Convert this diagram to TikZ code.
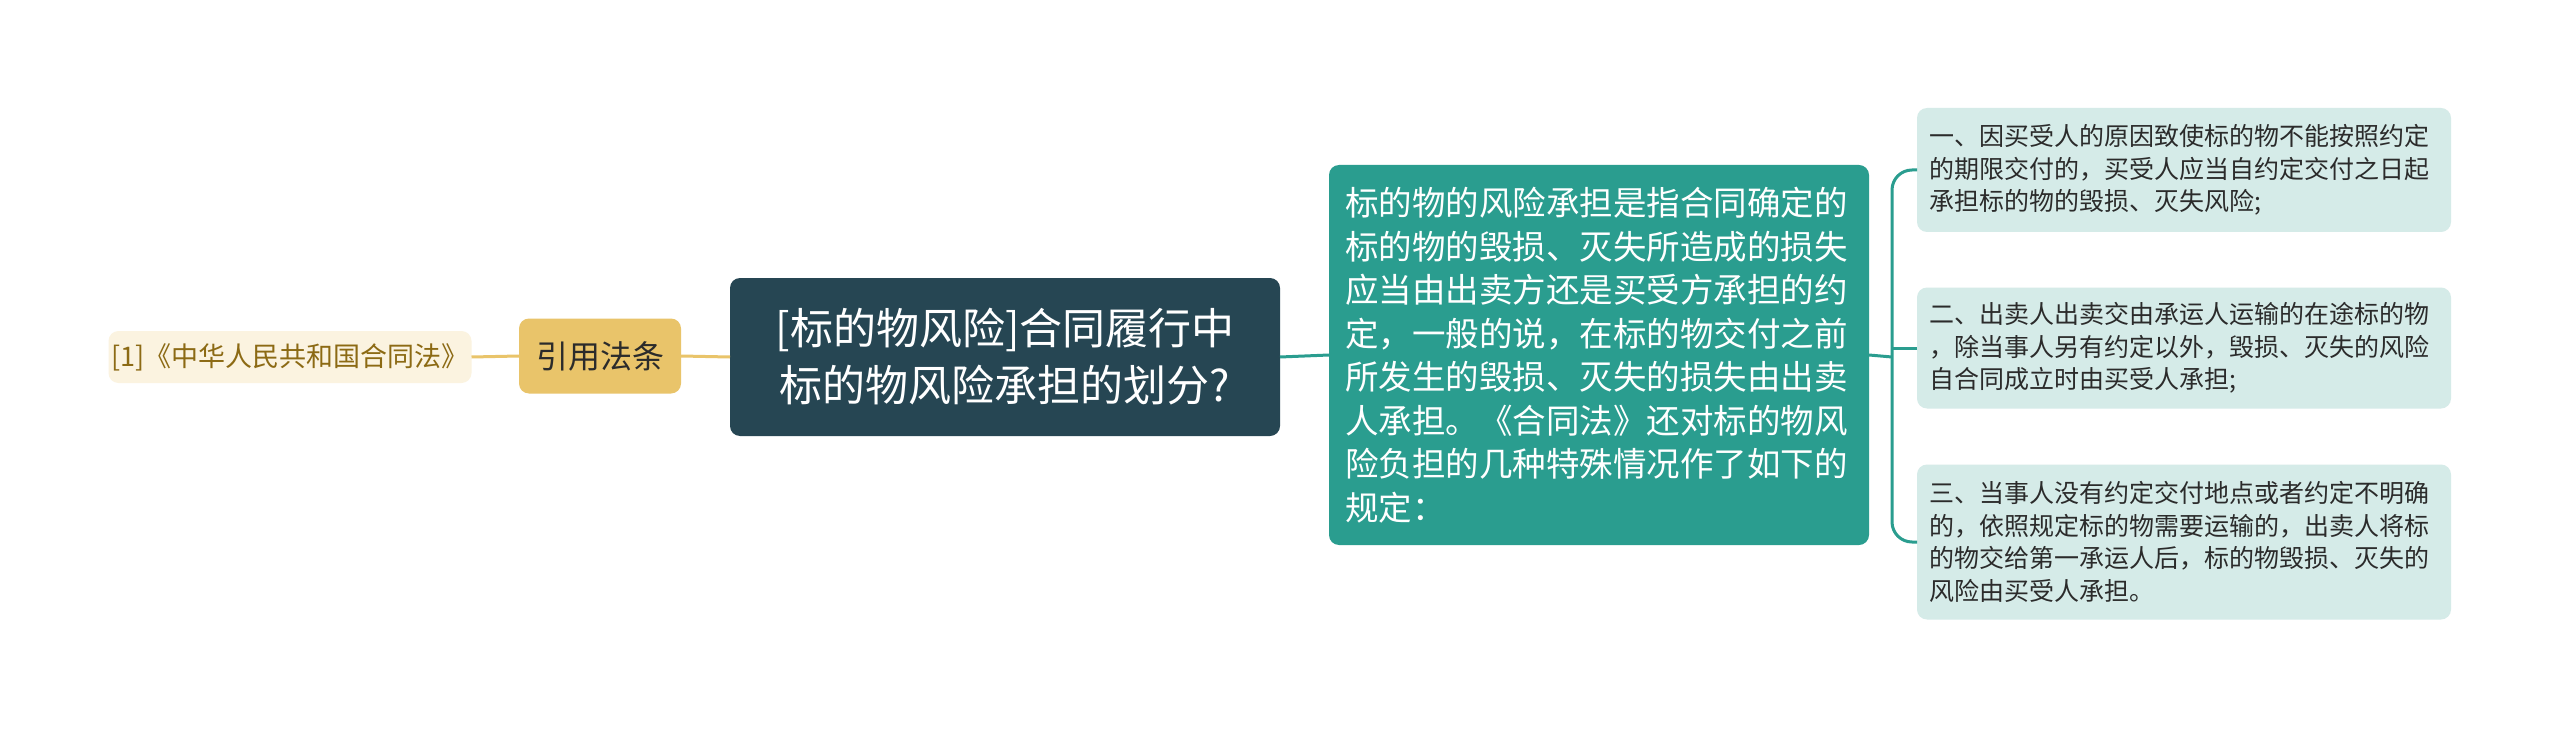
\documentclass[tikz,border=0pt]{standalone}
\usepackage{fontspec}
\setmainfont{Noto Sans CJK SC}
\definecolor{cgold}{HTML}{E9C46A}
\definecolor{ccream}{HTML}{FBF3E0}
\definecolor{cbrown}{HTML}{8C6A14}
\definecolor{cdark}{HTML}{264653}
\definecolor{cteal}{HTML}{2A9D8F}
\definecolor{cleaf}{HTML}{D5EBE8}
\definecolor{ctext}{HTML}{2B2B2B}
\tikzset{
  box/.style={rounded corners=10pt, inner sep=0pt, outer sep=0pt},
  goldline/.style={draw=cgold, line width=3pt},
  tealline/.style={draw=cteal, line width=3pt},
}
\begin{document}
\begin{tikzpicture}[x=1pt,y=-1pt]
\useasboundingbox (0,0) rectangle (2560,730);
\fill[white] (0,0) rectangle (2560,730);
\node[box, fill=ccream, text=cbrown, minimum width=363pt, minimum height=52pt,
  font=\fontsize{27}{33}\selectfont] (ref) at (290,357) {[1]《中华人民共和国合同法》};
\node[box, fill=cgold, text=ctext, minimum width=162pt, minimum height=75pt,
  font=\fontsize{32}{38}\selectfont] (cite) at (600,356) {引用法条};
\node[box, fill=cdark, text=white, minimum width=550pt, minimum height=158pt,
  align=center, font=\fontsize{43}{57}\selectfont] (main) at (1005,357)
  {[标的物风险]合同履行中\\标的物风险承担的划分?};
\node[box, fill=cteal, text=white, minimum width=540pt, minimum height=380pt,
  text width=508pt, align=left, font=\fontsize{33.5}{43.5}\selectfont] (desc) at (1599,355)
  {标的物的风险承担是指合同确定的\\标的物的毁损、灭失所造成的损失\\应当由出卖方还是买受方承担的约\\定，一般的说，在标的物交付之前\\所发生的毁损、灭失的损失由出卖\\人承担。《合同法》还对标的物风\\险负担的几种特殊情况作了如下的\\规定：};
\node[box, fill=cleaf, text=ctext, minimum width=534pt, minimum height=124pt,
  text width=510pt, align=left, font=\fontsize{25}{32.7}\selectfont] (l1) at (2184,170)
  {一、因买受人的原因致使标的物不能按照约定\\的期限交付的，买受人应当自约定交付之日起\\承担标的物的毁损、灭失风险;};
\node[box, fill=cleaf, text=ctext, minimum width=534pt, minimum height=121pt,
  text width=510pt, align=left, font=\fontsize{25}{32.7}\selectfont] (l2) at (2184,348)
  {二、出卖人出卖交由承运人运输的在途标的物\\，除当事人另有约定以外，毁损、灭失的风险\\自合同成立时由买受人承担;};
\node[box, fill=cleaf, text=ctext, minimum width=534pt, minimum height=155pt,
  text width=510pt, align=left, font=\fontsize{25}{32.7}\selectfont] (l3) at (2184,542)
  {三、当事人没有约定交付地点或者约定不明确\\的，依照规定标的物需要运输的，出卖人将标\\的物交给第一承运人后，标的物毁损、灭失的\\风险由买受人承担。};
\coordinate (bx) at (1892,357);
\draw[goldline] (ref.east) -- (cite.west);
\draw[goldline] (cite.east) -- (main.west);
\draw[tealline] (main.east) -- (desc.west);
\draw[tealline] (desc.east) -- (bx);
\draw[tealline, rounded corners=20pt] (l1.west) -| (bx) |- (l3.west);
\draw[tealline] (l2.west) -- (l2.west -| bx);
\end{tikzpicture}
\end{document}
